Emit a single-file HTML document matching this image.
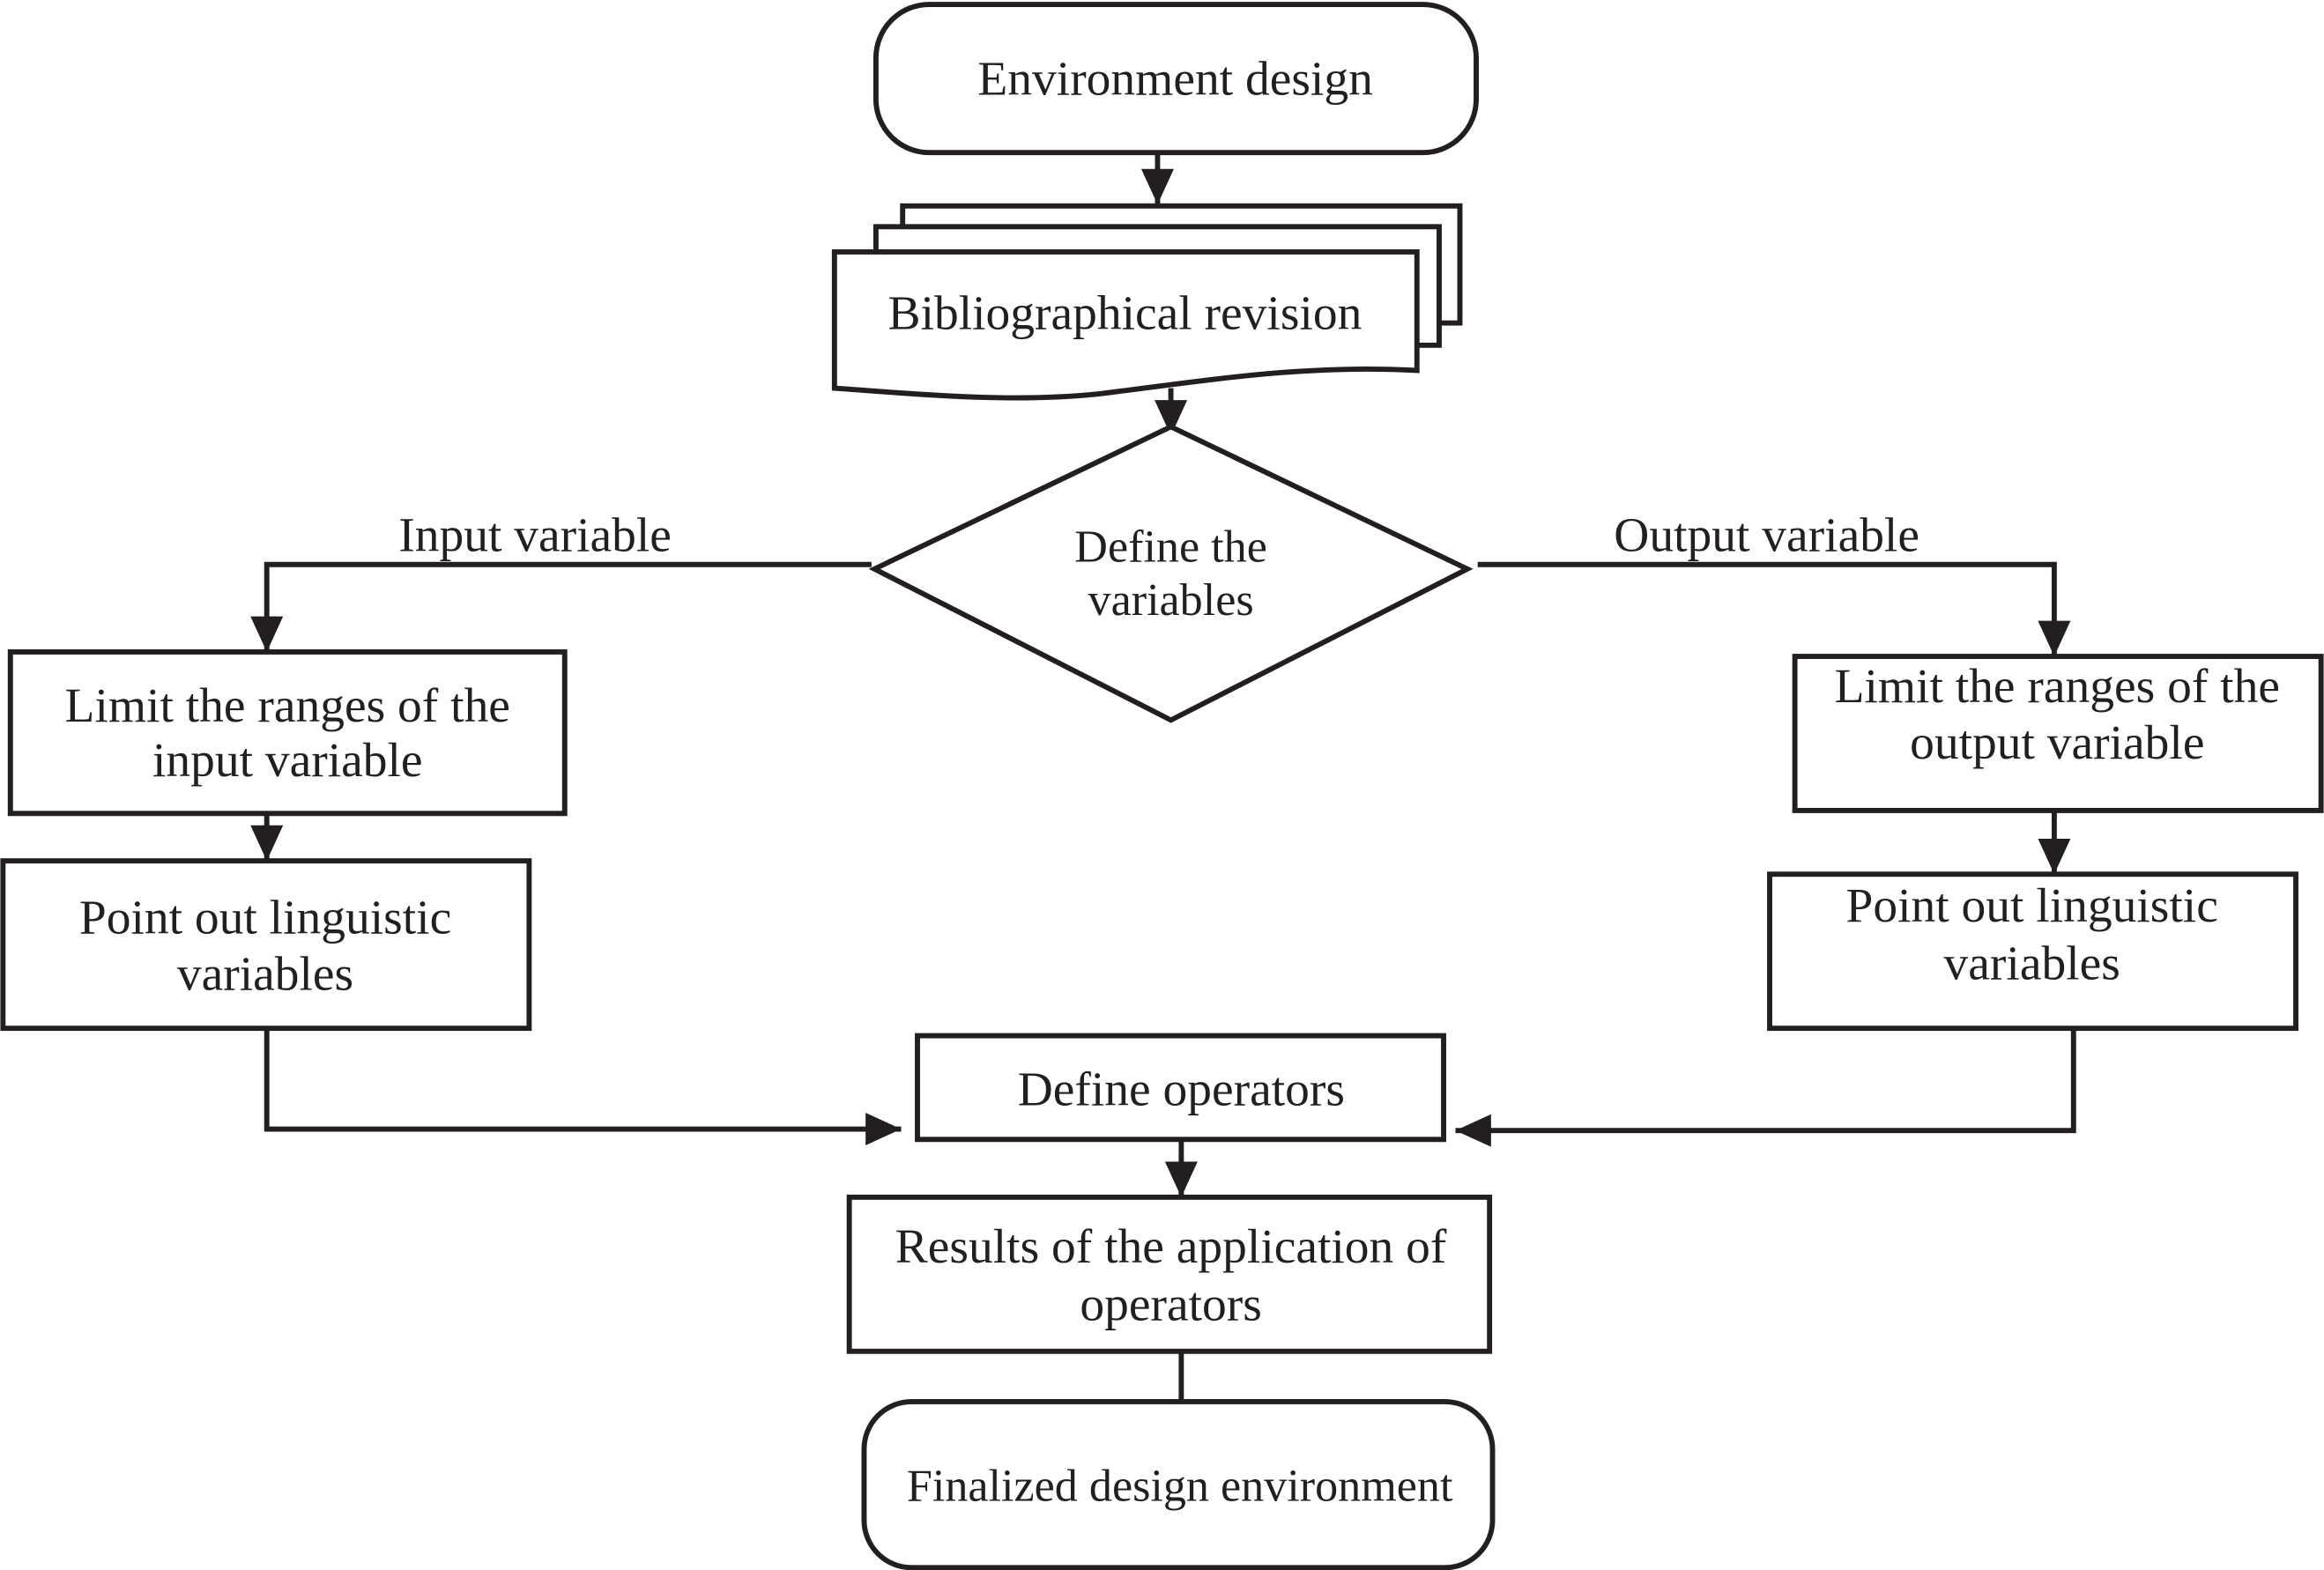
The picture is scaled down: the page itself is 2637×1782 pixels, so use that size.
<!DOCTYPE html>
<html><head><meta charset="utf-8"><style>html,body{margin:0;padding:0;background:#fff}svg{display:block}</style></head>
<body>
<svg width="2637" height="1782" viewBox="0 0 1568 1059.6" preserveAspectRatio="none" xmlns="http://www.w3.org/2000/svg">
<defs><marker id="a" markerUnits="userSpaceOnUse" markerWidth="26" markerHeight="24" refX="24" refY="12" orient="auto"><path d="M0,1 L24,12 L0,23 Z" fill="#231f20"/></marker></defs>
<g fill="none" stroke="#231f20" stroke-width="3.5">
<rect x="591" y="3" width="405" height="100" rx="36" fill="#fff"/>
<line x1="781" y1="103" x2="781" y2="138" marker-end="url(#a)"/>
<rect x="609" y="139" width="376" height="79" fill="#fff"/>
<rect x="591" y="153" width="380" height="80" fill="#fff"/>
<path d="M563,170 L956,170 L956,250 C880,246 820,256 740,266 C680,272 620,266 563,262 Z" fill="#fff"/>
<line x1="790" y1="262" x2="790" y2="294" marker-end="url(#a)"/>
<path d="M790,288 L990,384 L790,486 L590,384 Z" fill="#fff"/>
<polyline points="588,381 180,381 180,440" marker-end="url(#a)"/>
<polyline points="997,381 1386,381 1386,443" marker-end="url(#a)"/>
<rect x="7" y="440" width="374" height="109"/>
<line x1="180" y1="549" x2="180" y2="581" marker-end="url(#a)"/>
<rect x="2" y="581" width="355" height="113"/>
<polyline points="180,694 180,762 608,762" marker-end="url(#a)"/>
<rect x="1211" y="443" width="355" height="104"/>
<line x1="1386" y1="547" x2="1386" y2="590" marker-end="url(#a)"/>
<rect x="1194" y="590" width="355" height="104"/>
<polyline points="1399,694 1399,763 982,763" marker-end="url(#a)"/>
<rect x="619" y="699" width="355" height="70"/>
<line x1="797" y1="769" x2="797" y2="808" marker-end="url(#a)"/>
<rect x="573" y="808" width="432" height="104"/>
<line x1="797" y1="912" x2="797" y2="946"/>
<rect x="583" y="946" width="424" height="112" rx="32" fill="#fff"/>
</g>
<g font-family="Liberation Serif, serif" font-size="33" fill="#231f20" text-anchor="middle">
<text x="793" y="64">Environment design</text>
<text x="759" y="222">Bibliographical revision</text>
<text x="790" y="379" font-size="31">Define the</text>
<text x="790" y="415" font-size="31">variables</text>
<text x="361" y="372">Input variable</text>
<text x="1192" y="372">Output variable</text>
<text x="194" y="487">Limit the ranges of the</text>
<text x="194" y="524">input variable</text>
<text x="179" y="630">Point out linguistic</text>
<text x="179" y="668">variables</text>
<text x="1388" y="474">Limit the ranges of the</text>
<text x="1388" y="512">output variable</text>
<text x="1371" y="622">Point out linguistic</text>
<text x="1371" y="661">variables</text>
<text x="797" y="746">Define operators</text>
<text x="790" y="852">Results of the application of</text>
<text x="790" y="891">operators</text>
<text x="796" y="1013" font-size="31">Finalized design environment</text>
</g>
</svg>
</body></html>
